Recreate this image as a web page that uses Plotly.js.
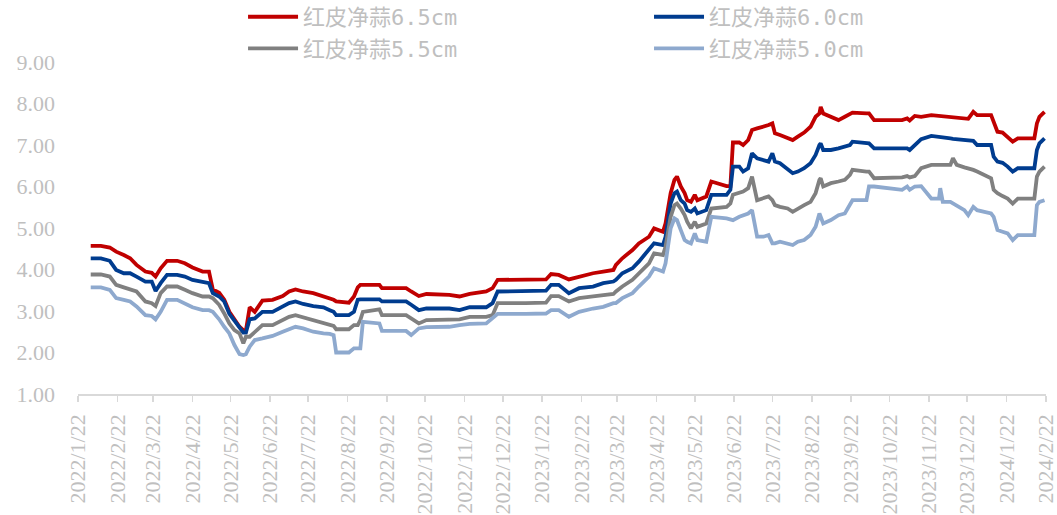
<!DOCTYPE html>
<html>
<head>
<meta charset="utf-8">
<script src="https://cdn.plot.ly/plotly-3.0.1.min.js"></script>
<style>html,body{margin:0;padding:0;background:#fff;}#chart{width:1057px;height:515px;}</style>
</head>
<body>
<div id="chart"></div>
<script>
// ---- data ----
const seriesNames = ["红皮净蒜6.5cm", "红皮净蒜6.0cm", "红皮净蒜5.5cm", "红皮净蒜5.0cm"];

const dates = [
"2022-02-01","2022-02-09","2022-02-16","2022-02-21","2022-02-27","2022-03-04","2022-03-09","2022-03-16","2022-03-21","2022-03-24",
"2022-03-28","2022-04-02","2022-04-10","2022-04-16","2022-04-22","2022-04-30","2022-05-05","2022-05-08","2022-05-13","2022-05-17",
"2022-05-21","2022-05-25","2022-05-29","2022-06-01","2022-06-03","2022-06-06","2022-06-10","2022-06-16","2022-06-24","2022-07-02",
"2022-07-07","2022-07-12","2022-07-18","2022-07-26","2022-08-03","2022-08-08","2022-08-11","2022-08-13","2022-08-23","2022-08-27",
"2022-08-30","2022-09-01","2022-09-03","2022-09-16","2022-09-18","2022-10-07","2022-10-11","2022-10-17","2022-10-23","2022-11-10",
"2022-11-18","2022-11-26","2022-12-09","2022-12-14","2022-12-18","2023-01-09","2023-01-25","2023-01-29","2023-02-04","2023-02-12",
"2023-02-20","2023-03-03","2023-03-11","2023-03-19","2023-03-21","2023-03-26","2023-04-03","2023-04-08","2023-04-16","2023-04-20",
"2023-04-27","2023-04-29","2023-05-03","2023-05-06","2023-05-08","2023-05-11","2023-05-14","2023-05-16","2023-05-19","2023-05-22",
"2023-05-24","2023-05-31","2023-06-04","2023-06-16","2023-06-19","2023-06-21","2023-06-26","2023-06-29","2023-07-03","2023-07-06",
"2023-07-10","2023-07-15","2023-07-19","2023-07-22","2023-07-24","2023-07-28","2023-08-03","2023-08-07","2023-08-11","2023-08-16",
"2023-08-21","2023-08-25","2023-08-28","2023-08-29","2023-08-31","2023-09-06","2023-09-12","2023-09-17","2023-09-21","2023-09-23",
"2023-10-04","2023-10-06","2023-10-10","2023-11-01","2023-11-05","2023-11-07","2023-11-11","2023-11-16","2023-11-24","2023-11-30",
"2023-12-01","2023-12-03","2023-12-09","2023-12-11","2023-12-14","2023-12-20","2023-12-23","2023-12-27","2023-12-30","2024-01-10",
"2024-01-12","2024-01-15","2024-01-19","2024-01-23","2024-01-27","2024-01-31","2024-02-13","2024-02-15","2024-02-17","2024-02-21"
];

const price65 = [
4.57,4.57,4.53,4.43,4.35,4.27,4.11,3.95,3.92,3.83,
4.03,4.21,4.21,4.15,4.05,3.95,3.95,3.52,3.44,3.27,
2.98,2.78,2.62,2.54,2.52,3.09,2.98,3.25,3.27,3.36,
3.47,3.52,3.47,3.43,3.36,3.31,3.27,3.23,3.20,3.35,
3.57,3.63,3.63,3.63,3.55,3.55,3.47,3.36,3.41,3.39,
3.35,3.41,3.47,3.55,3.75,3.75,3.76,3.89,3.87,3.76,
3.83,3.91,3.95,3.99,4.11,4.27,4.47,4.63,4.79,4.99,
4.91,5.11,5.84,6.16,6.24,6.00,5.84,5.67,5.63,5.80,
5.67,5.76,6.12,6.01,6.01,7.06,7.06,7.00,7.12,7.36,
7.40,7.44,7.48,7.52,7.28,7.24,7.16,7.12,7.20,7.30,
7.44,7.68,7.76,7.92,7.76,7.68,7.60,7.68,7.76,7.78,
7.76,7.76,7.60,7.60,7.64,7.59,7.70,7.68,7.72,7.70,
7.70,7.70,7.68,7.68,7.67,7.64,7.63,7.80,7.72,7.72,
7.56,7.32,7.30,7.20,7.08,7.16,7.16,7.52,7.68,7.80
];

const price60 = [
4.27,4.27,4.21,3.99,3.91,3.91,3.83,3.71,3.71,3.48,
3.67,3.87,3.87,3.83,3.75,3.71,3.67,3.43,3.35,3.23,
2.93,2.77,2.61,2.48,2.48,2.80,2.82,2.98,2.98,3.12,
3.19,3.23,3.17,3.12,3.09,3.02,2.98,2.90,2.90,2.98,
3.27,3.28,3.28,3.28,3.23,3.23,3.15,3.02,3.06,3.06,
3.02,3.09,3.09,3.19,3.47,3.47,3.49,3.63,3.63,3.43,
3.55,3.59,3.67,3.71,3.75,3.91,4.03,4.19,4.47,4.63,
4.59,4.79,5.59,5.84,5.88,5.67,5.59,5.43,5.39,5.47,
5.35,5.43,5.80,5.80,5.92,6.48,6.48,6.36,6.44,6.80,
6.68,6.64,6.60,6.80,6.60,6.56,6.40,6.32,6.36,6.44,
6.56,6.76,7.00,7.04,6.88,6.88,6.92,6.96,7.00,7.08,
7.04,7.04,6.92,6.92,6.92,6.88,7.00,7.14,7.22,7.20,
7.20,7.20,7.16,7.15,7.14,7.12,7.12,7.10,7.00,7.00,
6.72,6.60,6.57,6.48,6.36,6.44,6.44,6.88,7.04,7.16
];

const price55 = [
3.88,3.88,3.83,3.63,3.57,3.51,3.47,3.23,3.19,3.12,
3.43,3.59,3.59,3.51,3.43,3.35,3.35,3.31,3.15,2.94,
2.70,2.54,2.46,2.22,2.38,2.38,2.50,2.66,2.66,2.77,
2.86,2.90,2.85,2.78,2.70,2.68,2.64,2.56,2.56,2.66,
2.66,2.78,2.98,3.04,2.90,2.90,2.82,2.70,2.78,2.78,
2.80,2.86,2.86,2.90,3.19,3.19,3.20,3.36,3.36,3.23,
3.31,3.35,3.39,3.41,3.47,3.59,3.75,3.91,4.15,4.39,
4.35,4.55,5.27,5.55,5.59,5.47,5.31,5.15,4.99,5.15,
5.03,5.11,5.47,5.51,5.59,5.80,5.84,5.88,5.96,6.24,
5.67,5.72,5.76,5.67,5.55,5.51,5.47,5.39,5.47,5.55,
5.63,5.84,6.16,6.20,6.00,6.08,6.12,6.16,6.28,6.40,
6.36,6.36,6.20,6.22,6.25,6.22,6.25,6.44,6.52,6.52,
6.52,6.52,6.52,6.68,6.52,6.46,6.44,6.40,6.36,6.20,
5.92,5.84,5.77,5.71,5.59,5.71,5.71,6.24,6.36,6.48
];

const price50 = [
3.57,3.57,3.51,3.31,3.27,3.23,3.11,2.90,2.88,2.80,
2.98,3.27,3.27,3.17,3.09,3.02,3.02,2.98,2.80,2.62,
2.46,2.18,1.96,1.94,1.96,2.14,2.30,2.34,2.40,2.50,
2.56,2.62,2.58,2.50,2.46,2.45,2.42,2.00,2.00,2.10,
2.10,2.10,2.74,2.70,2.52,2.52,2.42,2.58,2.61,2.62,
2.66,2.69,2.70,2.82,2.93,2.93,2.94,3.02,3.02,2.86,
2.98,3.06,3.10,3.19,3.19,3.31,3.43,3.59,3.83,4.03,
3.95,4.15,4.99,5.23,5.19,4.95,4.71,4.67,4.63,4.87,
4.71,4.67,5.27,5.23,5.21,5.19,5.27,5.31,5.35,5.43,
4.79,4.79,4.83,4.63,4.63,4.67,4.63,4.59,4.67,4.71,
4.83,5.03,5.35,5.27,5.11,5.19,5.31,5.35,5.59,5.67,
5.67,6.00,6.00,5.92,6.00,5.92,6.00,6.01,5.71,5.71,
5.96,5.63,5.63,5.59,5.55,5.43,5.31,5.51,5.43,5.35,
5.27,4.95,4.91,4.87,4.71,4.83,4.83,5.55,5.63,5.67
];

const tickDates = [
"2022-01-22","2022-02-22","2022-03-22","2022-04-22","2022-05-22","2022-06-22","2022-07-22","2022-08-22","2022-09-22",
"2022-10-22","2022-11-22","2022-12-22","2023-01-22","2023-02-22","2023-03-22","2023-04-22","2023-05-22","2023-06-22",
"2023-07-22","2023-08-22","2023-09-22","2023-10-22","2023-11-22","2023-12-22","2024-01-22","2024-02-22"
];
const tickLabels = [
"2022/1/22","2022/2/22","2022/3/22","2022/4/22","2022/5/22","2022/6/22","2022/7/22","2022/8/22","2022/9/22",
"2022/10/22","2022/11/22","2022/12/22","2023/1/22","2023/2/22","2023/3/22","2023/4/22","2023/5/22","2023/6/22",
"2023/7/22","2023/8/22","2023/9/22","2023/10/22","2023/11/22","2023/12/22","2024/1/22","2024/2/22"
];

// ---- styles ----
const colors = ["#C00000", "#003C8F", "#808080", "#8EA9CE"];
const legendFor = ["legend", "legend2", "legend", "legend2"];
const allSeries = [price65, price60, price55, price50];

const traces = allSeries.map((vals, i) => ({
  type: "scatter",
  mode: "lines",
  x: dates,
  y: vals,
  name: seriesNames[i],
  legend: legendFor[i],
  line: {color: colors[i], width: 3.8}
}));

const tickFont = {family: "Liberation Serif, Times New Roman, serif", size: 22, color: "#BFBFBF"};
const legFont = {family: "DejaVu Sans Mono, Noto Sans CJK SC, monospace", size: 22, color: "#BFBFBF"};

const layout = {
  width: 1057,
  height: 515,
  margin: {l: 78, r: 11, t: 62, b: 121, autoexpand: false},
  paper_bgcolor: "#ffffff",
  plot_bgcolor: "#ffffff",
  showlegend: true,
  xaxis: {
    type: "date",
    range: ["2022-01-22", "2024-02-22 04:00"],
    tickvals: tickDates,
    ticktext: tickLabels,
    tickangle: -90,
    tickfont: tickFont,
    ticklabeloverflow: "allow",
    showgrid: false,
    zeroline: false,
    showline: true,
    linecolor: "#D9D9D9",
    linewidth: 1.5,
    ticks: "outside",
    ticklen: 6,
    tickcolor: "#D9D9D9",
    tickwidth: 1.5,
    ticklabelstandoff: 4,
    automargin: false
  },
  yaxis: {
    range: [1, 9],
    dtick: 1,
    tick0: 1,
    tickformat: ".2f",
    tickfont: tickFont,
    showgrid: false,
    zeroline: false,
    showline: false,
    ticks: "",
    ticklabelstandoff: 22,
    automargin: false
  },
  legend: {
    xref: "paper", yref: "paper",
    x: 0.1705, y: 1.199, xanchor: "left", yanchor: "top",
    orientation: "v", font: legFont, bgcolor: "rgba(0,0,0,0)",
    itemwidth: 50, tracegroupgap: 0
  },
  legend2: {
    xref: "paper", yref: "paper",
    x: 0.5899, y: 1.199, xanchor: "left", yanchor: "top",
    orientation: "v", font: legFont, bgcolor: "rgba(0,0,0,0)",
    itemwidth: 50, tracegroupgap: 0
  }
};

Plotly.newPlot("chart", traces, layout, {displayModeBar: false, staticPlot: true});
</script>
</body>
</html>
